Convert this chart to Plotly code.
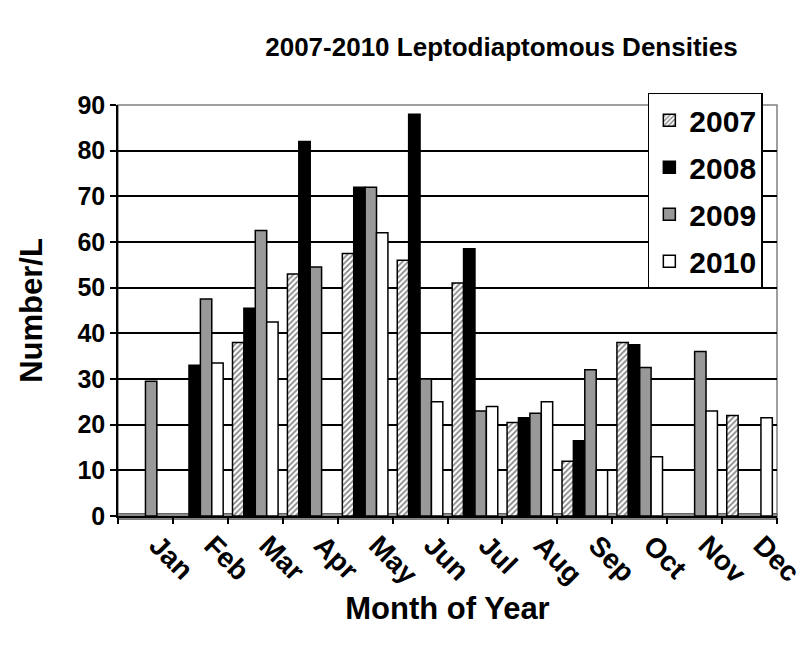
import plotly.graph_objects as go

months = ["Jan", "Feb", "Mar", "Apr", "May", "Jun", "Jul", "Aug", "Sep", "Oct", "Nov", "Dec"]
d2007 = [None, None, 38, 53, 57.5, 56, 51, 20.5, 12, 38, None, 22]
d2008 = [None, 33, 45.5, 82, 72, 88, 58.5, 21.5, 16.5, 37.5, None, None]
d2009 = [29.5, 47.5, 62.5, 54.5, 72, 30, 23, 22.5, 32, 32.5, 36, None]
d2010 = [None, 33.5, 42.5, None, 62, 25, 24, 25, 10, 13, 23, 21.5]
y_ticks = [0, 10, 20, 30, 40, 50, 60, 70, 80, 90]

FONT = "Liberation Sans, Arial, sans-serif"

series = [
    ("2007", d2007, dict(color="white", pattern=dict(shape="/", fgcolor="black", bgcolor="white", size=4, solidity=0.4))),
    ("2008", d2008, dict(color="black")),
    ("2009", d2009, dict(color="#999999")),
    ("2010", d2010, dict(color="white")),
]

fig = go.Figure()
for name, vals, mk in series:
    mk = dict(mk)
    mk["line"] = dict(color="black", width=1.5)
    fig.add_trace(go.Bar(x=months, y=vals, name=name, marker=mk, legendgroup=name))

fig.update_layout(
    width=809, height=656,
    paper_bgcolor="white", plot_bgcolor="white",
    margin=dict(l=110, r=40, t=97, b=148),
    barmode="group", bargap=0.17, bargroupgap=0,
    font=dict(family=FONT, color="black", size=20, weight="bold"),
    title=dict(text="2007-2010 Leptodiaptomous Densities", x=0.61, xanchor="center", y=0.94, yanchor="middle",
               font=dict(family=FONT, size=26, weight="bold", color="black")),
    showlegend=True,
    legend=dict(x=0.804, y=1.03, xanchor="left", yanchor="top", bgcolor="white", bordercolor="black",
                borderwidth=1.5, font=dict(family=FONT, size=30, weight="bold"), tracegroupgap=5,
                itemwidth=30),
    xaxis=dict(type="category", tickson="boundaries", ticks="outside", ticklen=6, tickcolor="black", tickwidth=1.5,
               showline=True, linecolor="black", linewidth=1.5, tickangle=45, ticklabelshift=12,
               tickfont=dict(family=FONT, size=28, weight="bold"),
               title=dict(text="Month of Year", font=dict(family=FONT, size=31, weight="bold"), standoff=8),
               showgrid=False),
    yaxis=dict(range=[0, 90], tickvals=y_ticks, ticks="outside", ticklen=6, tickcolor="black", tickwidth=1.5,
               showline=True, linecolor="black", linewidth=1.5, gridcolor="black", gridwidth=1.5,
               tickfont=dict(family=FONT, size=25, weight="bold"),
               title=dict(text="Number/L", font=dict(family=FONT, size=31, weight="bold"), standoff=26),
               zeroline=False),
)

# back-wall outline (gray) and floor strip
fig.add_shape(type="rect", xref="paper", yref="paper", x0=0, x1=1, y0=0, y1=1,
              line=dict(color="#808080", width=1.5), layer="below")
fig.add_shape(type="rect", xref="paper", yref="paper", x0=0, x1=1, y0=-0.008, y1=0.006,
              line=dict(color="#606060", width=1), fillcolor="#8c8c8c", layer="below")

fig.write_html("out.html")
